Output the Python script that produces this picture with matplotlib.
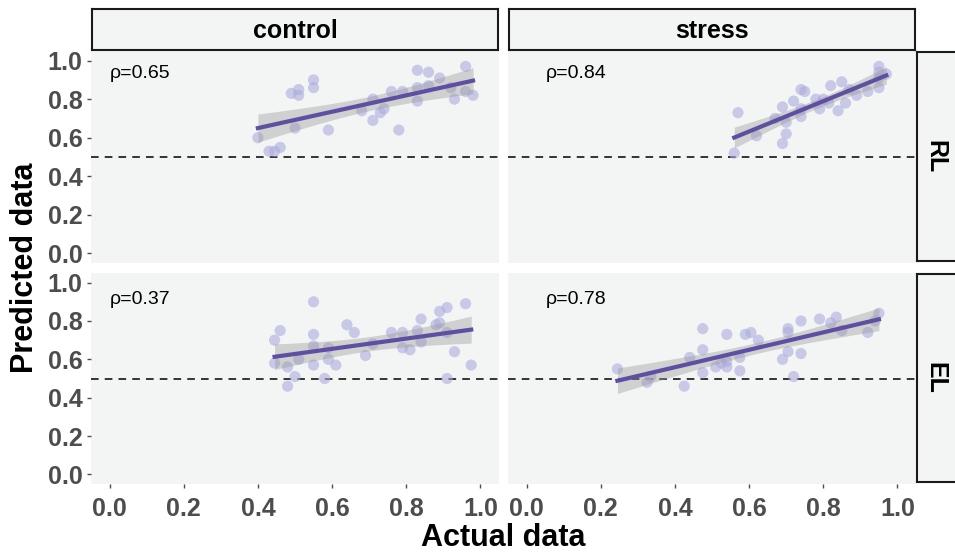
import numpy as np
import matplotlib.pyplot as plt

plt.rcParams['font.family'] = ['Liberation Sans', 'DejaVu Sans']

conditions = ['control', 'stress']
groups = ['RL', 'EL']

# control / RL
ctrl_rl_x = [0.40, 0.43, 0.445, 0.46, 0.49, 0.51, 0.51, 0.55, 0.55, 0.50, 0.59, 0.68, 0.71, 0.71, 0.73,
             0.74, 0.76, 0.78, 0.79, 0.83, 0.83, 0.83, 0.86, 0.86, 0.89, 0.93, 0.96, 0.96, 0.98, 0.92]
ctrl_rl_y = [0.60, 0.53, 0.53, 0.55, 0.83, 0.85, 0.82, 0.90, 0.86, 0.65, 0.64, 0.74, 0.80, 0.69, 0.73,
             0.75, 0.84, 0.64, 0.84, 0.95, 0.86, 0.79, 0.94, 0.87, 0.91, 0.80, 0.97, 0.84, 0.82, 0.86]

# stress / RL
str_rl_x = [0.56, 0.57, 0.62, 0.69, 0.69, 0.70, 0.70, 0.72, 0.74, 0.75, 0.74, 0.74, 0.67, 0.79, 0.80,
            0.82, 0.84, 0.85, 0.86, 0.87, 0.89, 0.92, 0.95, 0.95, 0.97, 0.95, 0.95, 0.78, 0.815]
str_rl_y = [0.52, 0.73, 0.61, 0.76, 0.57, 0.62, 0.68, 0.79, 0.85, 0.84, 0.71, 0.75, 0.70, 0.75, 0.80,
            0.87, 0.74, 0.89, 0.78, 0.85, 0.82, 0.84, 0.97, 0.94, 0.93, 0.86, 0.91, 0.80, 0.78]

# control / EL
ctrl_el_x = [0.445, 0.46, 0.445, 0.48, 0.48, 0.50, 0.51, 0.55, 0.55, 0.55, 0.55, 0.58, 0.59, 0.59, 0.61,
             0.64, 0.66, 0.69, 0.71, 0.76, 0.79, 0.79, 0.81, 0.83, 0.84, 0.84, 0.88, 0.89, 0.89, 0.91,
             0.91, 0.91, 0.93, 0.96, 0.975]
ctrl_el_y = [0.70, 0.75, 0.58, 0.56, 0.46, 0.51, 0.60, 0.90, 0.73, 0.67, 0.57, 0.50, 0.60, 0.66, 0.57,
             0.78, 0.74, 0.62, 0.68, 0.74, 0.74, 0.66, 0.65, 0.75, 0.81, 0.69, 0.78, 0.79, 0.85, 0.87,
             0.74, 0.50, 0.64, 0.89, 0.57]

# stress / EL
str_el_x = [0.245, 0.325, 0.335, 0.425, 0.44, 0.475, 0.475, 0.475, 0.51, 0.525, 0.54, 0.54, 0.54, 0.575,
            0.575, 0.59, 0.605, 0.625, 0.69, 0.705, 0.705, 0.705, 0.72, 0.74, 0.74, 0.79, 0.82, 0.835,
            0.85, 0.92, 0.95, 0.94]
str_el_y = [0.55, 0.48, 0.51, 0.46, 0.61, 0.76, 0.65, 0.53, 0.56, 0.58, 0.73, 0.59, 0.56, 0.61, 0.54,
            0.73, 0.74, 0.70, 0.60, 0.64, 0.76, 0.74, 0.51, 0.63, 0.80, 0.81, 0.79, 0.82, 0.75, 0.74,
            0.84, 0.80]

panel_x = [[ctrl_rl_x, str_rl_x], [ctrl_el_x, str_el_x]]
panel_y = [[ctrl_rl_y, str_rl_y], [ctrl_el_y, str_el_y]]
rho = [['ρ=0.65', 'ρ=0.84'], ['ρ=0.37', 'ρ=0.78']]
rho_x = [0.0, 0.053]
rho_y = [0.935, 0.91]

ticks = [0.0, 0.2, 0.4, 0.6, 0.8, 1.0]
tick_labels = ['0.0', '0.2', '0.4', '0.6', '0.8', '1.0']

panel_bg = '#F3F5F5'
point_col = '#ACACDD'
line_col = '#5E4FA2'
tick_col = '#4D4D4D'


def fit_band(x, y):
    x = np.asarray(x)
    y = np.asarray(y)
    b1, b0 = np.polyfit(x, y, 1)
    xs = np.linspace(x.min(), x.max(), 80)
    fit = b0 + b1 * xs
    n = len(x)
    s = np.sqrt(np.sum((y - (b0 + b1 * x)) ** 2) / (n - 2))
    se = s * np.sqrt(1 / n + (xs - x.mean()) ** 2 / np.sum((x - x.mean()) ** 2))
    t = 2.04  # ~95% for n around 30
    return xs, fit, fit - t * se, fit + t * se


W, H = 955, 556
fig = plt.figure(figsize=(W / 100, H / 100), dpi=100)

col_left = [91, 508]
col_w = 408
row_top = [51, 273]
row_h = [212, 211]

for r in range(2):
    for c in range(2):
        ax = fig.add_axes([col_left[c] / W, 1 - (row_top[r] + row_h[r]) / H, col_w / W, row_h[r] / H])
        ax.set_facecolor(panel_bg)
        for sp in ax.spines.values():
            sp.set_visible(False)
        ax.set_xlim(-0.05, 1.05)
        ax.set_ylim(-0.05, 1.05)

        x = panel_x[r][c]
        y = panel_y[r][c]
        ax.axhline(0.5, color='black', linestyle=(0, (5, 4)), linewidth=1.1, zorder=1)
        ax.scatter(x, y, s=65, color=point_col, alpha=0.6, edgecolors='none', zorder=2)
        xs, fit, lo, hi = fit_band(x, y)
        ax.fill_between(xs, lo, hi, color='#999999', alpha=0.4, linewidth=0, zorder=3)
        ax.plot(xs, fit, color=line_col, linewidth=3, zorder=4)
        ax.text(rho_x[c], rho_y[r], rho[r][c], fontsize=14, ha='left', va='center', color='black')

        ax.set_xticks(ticks)
        ax.set_yticks(ticks)
        ax.tick_params(axis='both', length=3, width=1, color=tick_col, labelcolor=tick_col,
                       labelsize=18, pad=3)
        if r == 1:
            ax.set_xticklabels(tick_labels, fontweight='bold')
            ax.tick_params(axis='x', pad=6)
        else:
            ax.tick_params(axis='x', length=0, labelbottom=False)
        if c == 0:
            ax.set_yticklabels(tick_labels, fontweight='bold')
        else:
            ax.tick_params(axis='y', length=0, labelleft=False)

# strips on top
for c in range(2):
    sax = fig.add_axes([(col_left[c] + 1) / W, 1 - 50 / H, (col_w - 2) / W, 41 / H])
    sax.set_facecolor(panel_bg)
    sax.set_xticks([])
    sax.set_yticks([])
    for sp in sax.spines.values():
        sp.set_linewidth(1.5)
        sp.set_color('#1A1A1A')
    sax.text(0.5, 0.47, conditions[c], transform=sax.transAxes, ha='center', va='center',
             fontsize=18, fontweight='bold')

# strips on the right
for r in range(2):
    sax = fig.add_axes([917 / W, 1 - (row_top[r] + row_h[r] - 2) / H, 41 / W, (row_h[r] - 3) / H])
    sax.set_facecolor(panel_bg)
    sax.set_xticks([])
    sax.set_yticks([])
    for sp in sax.spines.values():
        sp.set_linewidth(1.5)
        sp.set_color('#1A1A1A')
    sax.text(0.45, 0.5, groups[r], transform=sax.transAxes, ha='center', va='center',
             fontsize=18, fontweight='bold', rotation=-90)

fig.text((91 + 916) / 2 / W, 1 - 538 / H, 'Actual data', ha='center', va='center',
         fontsize=22, fontweight='bold')
fig.text(25 / W, 1 - 268 / H, 'Predicted data', ha='center', va='center',
         fontsize=22, fontweight='bold', rotation=90)

fig.savefig('out.png', dpi=100)
